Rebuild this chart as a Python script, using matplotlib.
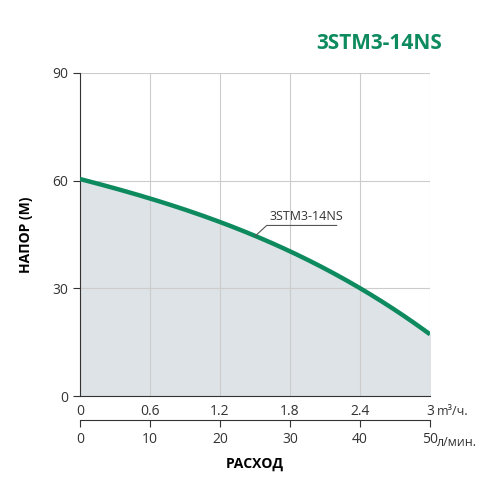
import matplotlib
matplotlib.use("Agg")
import matplotlib.pyplot as plt
import numpy as np

flow_m3h = [0, 0.3, 0.6, 0.9, 1.2, 1.5, 1.8, 2.1, 2.4, 2.7, 3.0]
head_m = [60.3, 58.0, 55.0, 52.0, 48.5, 44.5, 40.0, 35.5, 30.2, 24.2, 17.0]
x_ticks = [0, 0.6, 1.2, 1.8, 2.4, 3]
x2_ticks = [0, 10, 20, 30, 40, 50]
y_ticks = [0, 30, 60, 90]
green = "#0e8a5f"
plt.rcParams['font.family'] = ['Open Sans', 'DejaVu Sans']

fig = plt.figure(figsize=(5, 4.92), dpi=100)
ax = fig.add_axes([0.16, 0.195, 0.70, 0.657])
coef = np.polyfit(flow_m3h, head_m, 3)
xs = np.linspace(0, 3, 200)
ys = np.polyval(coef, xs)
ax.fill_between(xs, 0, ys, color="#dde3e6", zorder=1)
ax.plot(xs, ys, color=green, lw=3.2, zorder=3, solid_capstyle="butt")
ax.set_xlim(0, 3)
ax.set_ylim(0, 90)
ax.set_xticks(x_ticks)
ax.set_xticklabels(["0", "0.6", "1.2", "1.8", "2.4", "3"])
ax.set_yticks(y_ticks)
ax.grid(True, color="#cccccc", lw=0.8, zorder=0)
for s in ["top", "right"]:
    ax.spines[s].set_visible(False)
for s in ["left", "bottom"]:
    ax.spines[s].set_color("#333333")
ax.tick_params(axis="x", length=0, pad=6, labelsize=10, colors="#333333")
ax.tick_params(axis="y", length=5, labelsize=10, colors="#333333")
ax.set_ylabel("НАПОР (М)", fontsize=10, fontweight="bold", labelpad=14)
ax.text(3.06, -4.2, "m³/ч.", fontsize=9, ha="left", va="center", color="#333333")

sec = ax.secondary_xaxis(-0.074, functions=(lambda v: v * 50 / 3, lambda v: v * 3 / 50))
sec.set_xticks(x2_ticks)
sec.spines["bottom"].set_color("#333333")
sec.tick_params(length=5, labelsize=10, colors="#333333")
ax.text(3.06, -12.8, "л/мин.", fontsize=9, ha="left", va="center", color="#333333")
ax.text(1.5, -19, "РАСХОД", fontsize=10, fontweight="bold", ha="center", va="center")

ax.plot([1.5, 1.6, 2.2], [44.5, 47.5, 47.5], color="#555555", lw=0.8, zorder=4)
ax.text(1.62, 48.3, "3STM3-14NS", fontsize=9, color="#333333", ha="left", va="bottom", zorder=4)

fig.text(0.885, 0.912, "3STM3-14NS", fontsize=15, fontweight="bold", color=green, ha="right", va="center")
fig.savefig("out.png", dpi=100)
